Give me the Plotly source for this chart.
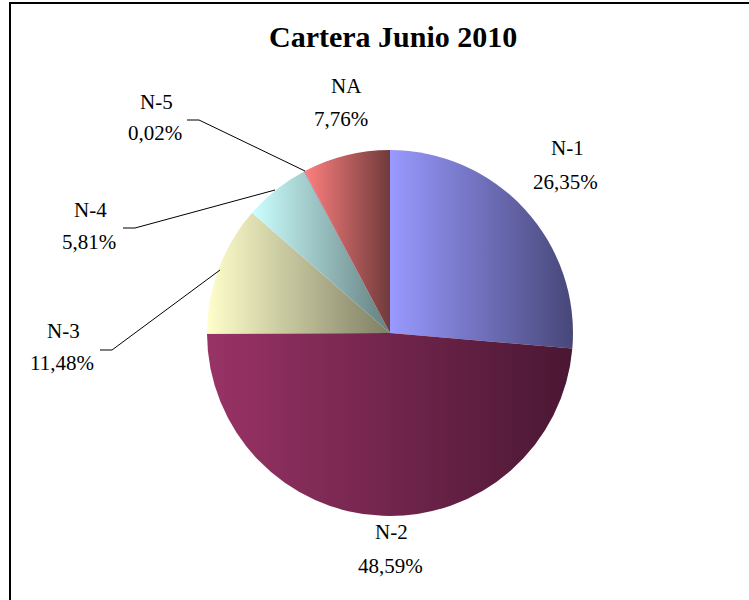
import json
import plotly.graph_objects as go

# ---- data ----
categories = ["N-1", "N-2", "N-3", "N-4", "N-5", "NA"]
values = [26.35, 48.59, 11.48, 5.81, 0.02, 7.76]
title_text = "Cartera Junio 2010"

# ---- style ----
light_cols = ["#9999FF", "#993366", "#FFFFCC", "#CCFFFF", "#660066", "#FF8080"]
dark_cols = ["#474779", "#4A1733", "#7E7E64", "#647E7E", "#330033", "#703A3A"]
mid_cols = ["#7070BC", "#72254D", "#BFBF99", "#99BFBF", "#4C004C", "#B85D5D"]

W, H = 749, 600
cx, cy, R = 390, 333, 183

# label placement (pixels: name center, percent center)
label_pos = {
    "N-1": ((567, 148), (565, 182)),
    "N-2": ((391, 532), (390, 566)),
    "N-3": ((63, 331), (62, 363)),
    "N-4": ((90, 210), (89, 242)),
    "N-5": ((156, 102), (155, 133)),
    "NA": ((346, 86), (341, 119)),
}
leaders = [
    [(187, 120), (199, 120), (305, 171)],
    [(123, 228), (135, 228), (275, 190)],
    [(100, 350), (112, 350), (220, 270)],
]

def px(x):
    return x / W

def py(y):
    return 1 - y / H

fig = go.Figure(go.Pie(
    labels=categories,
    values=values,
    sort=False,
    direction="clockwise",
    rotation=0,
    textinfo="none",
    hoverinfo="skip",
    showlegend=False,
    marker=dict(colors=mid_cols, line=dict(width=0)),
    domain=dict(x=[px(cx - R), px(cx + R)], y=[py(cy + R), py(cy - R)]),
))

FONT = "Liberation Serif"
anns = [dict(text="<b>" + title_text + "</b>", x=px(393), y=py(37), xref="paper", yref="paper",
             showarrow=False, font=dict(family=FONT, size=30, color="black"),
             xanchor="center", yanchor="middle")]
for cat, val in zip(categories, values):
    (nx, ny), (vx, vy) = label_pos[cat]
    anns.append(dict(text=cat, x=px(nx), y=py(ny), xref="paper", yref="paper", showarrow=False,
                     font=dict(family=FONT, size=21, color="black"), xanchor="center", yanchor="middle"))
    pct = f"{val:.2f}".replace(".", ",") + "%"
    anns.append(dict(text=pct, x=px(vx), y=py(vy), xref="paper", yref="paper", showarrow=False,
                     font=dict(family=FONT, size=21, color="black"), xanchor="center", yanchor="middle"))

shapes = [dict(type="line", xref="paper", yref="paper", x0=px(10), x1=px(10), y0=-0.05, y1=py(3),
               line=dict(color="black", width=2)),
          dict(type="line", xref="paper", yref="paper", x0=px(9), x1=1.05, y0=py(3), y1=py(3),
               line=dict(color="black", width=2))]
for pts in leaders:
    path = "M " + " L ".join(f"{px(x)},{py(y)}" for x, y in pts)
    shapes.append(dict(type="path", xref="paper", yref="paper", path=path,
                       line=dict(color="black", width=1)))

fig.update_layout(
    width=W, height=H,
    margin=dict(l=0, r=0, t=0, b=0),
    paper_bgcolor="white", plot_bgcolor="white",
    annotations=anns, shapes=shapes,
)

post = """
var gd = document.getElementById('{plot_id}');
var svg = gd.querySelector('svg.main-svg');
var defs = svg.querySelector('defs');
var NS = 'http://www.w3.org/2000/svg';
var light = %s, dark = %s;
gd.querySelectorAll('g.slice path.surface').forEach(function(p, i){
  var g = document.createElementNS(NS, 'linearGradient');
  g.setAttribute('id', 'sliceGrad' + i);
  g.setAttribute('x1', '0'); g.setAttribute('y1', '0');
  g.setAttribute('x2', '1'); g.setAttribute('y2', '0');
  var s1 = document.createElementNS(NS, 'stop');
  s1.setAttribute('offset', '0'); s1.setAttribute('stop-color', light[i]);
  var s2 = document.createElementNS(NS, 'stop');
  s2.setAttribute('offset', '1'); s2.setAttribute('stop-color', dark[i]);
  g.appendChild(s1); g.appendChild(s2);
  defs.appendChild(g);
  p.style.fill = 'url(#sliceGrad' + i + ')';
});
""" % (json.dumps(light_cols), json.dumps(dark_cols))

fig.write_html("out.html", post_script=post, config={"displayModeBar": False})
